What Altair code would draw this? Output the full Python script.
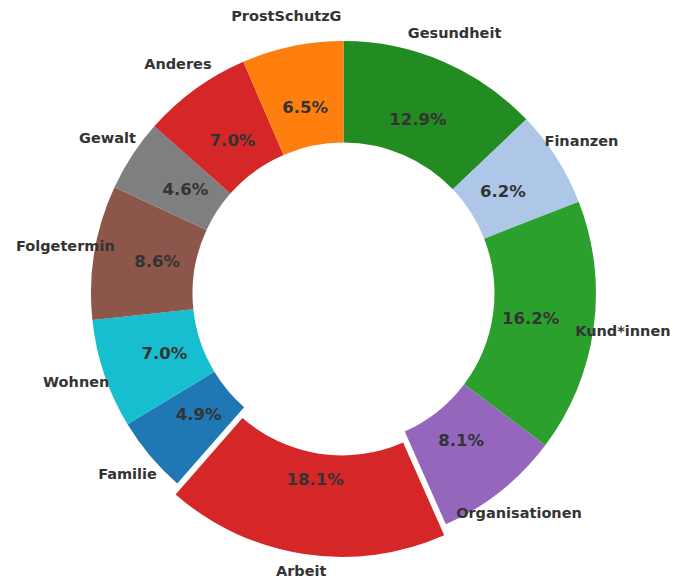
import altair as alt
import pandas as pd

# Data (clockwise from 12 o'clock)
labels = ["Gesundheit", "Finanzen", "Kund*innen", "Organisationen", "Arbeit",
          "Familie", "Wohnen", "Folgetermin", "Gewalt", "Anderes", "ProstSchutzG"]
values = [12.9, 6.2, 16.2, 8.1, 18.1, 4.9, 7.0, 8.6, 4.6, 7.0, 6.5]
colors = ["#228b22", "#aec7e8", "#2ca02c", "#9467bd", "#d62728",
          "#1f77b4", "#17becf", "#8c564b", "#7f7f7f", "#d62728", "#ff7f0e"]
exploded = "Arbeit"

df = pd.DataFrame({"label": labels, "value": values, "order": list(range(len(labels)))})

W, H = 673, 574
CX, CY = 335.5, 285.5
R_OUT, R_IN = 252.5, 151
EXPL = 11
R_LABEL, R_PCT = 282, 189

base = (
    alt.Chart(df)
    .transform_joinaggregate(total="sum(value)")
    .transform_window(cum="sum(value)", sort=[alt.SortField("order")], frame=[None, 0])
    .transform_calculate(
        start="2*PI*(datum.cum-datum.value)/datum.total",
        end="2*PI*datum.cum/datum.total",
    )
    .transform_calculate(mid="(datum.start+datum.end)/2")
    .transform_calculate(
        off=f"datum.label=='{exploded}' ? {EXPL} : 0",
        pct="format(datum.value, '.1f') + '%'",
    )
    .transform_calculate(
        cx=f"{CX} + datum.off*sin(datum.mid)",
        cy=f"{CY} - datum.off*cos(datum.mid)",
    )
)

color_scale = alt.Scale(domain=labels, range=colors)

arcs = base.mark_arc(innerRadius=R_IN, outerRadius=R_OUT).encode(
    theta=alt.Theta("start:Q", scale=None),
    theta2="end:Q",
    x=alt.X("cx:Q", scale=None),
    y=alt.Y("cy:Q", scale=None),
    color=alt.Color("label:N", scale=color_scale, legend=None),
)

outer_text = base.mark_text(
    font="DejaVu Sans", fontWeight="bold", fontSize=14.5, color="#333333",
    align="center", baseline="middle",
).encode(
    theta=alt.Theta("mid:Q", scale=None),
    radius=alt.value(R_LABEL),
    x=alt.value(CX),
    y=alt.value(CY),
    text="label:N",
)

pct_text = base.mark_text(
    font="DejaVu Sans", fontWeight="bold", fontSize=16.5, color="#333333",
    align="center", baseline="middle",
).encode(
    theta=alt.Theta("mid:Q", scale=None),
    radius=alt.value(R_PCT),
    x=alt.value(CX),
    y=alt.value(CY),
    text="pct:N",
)

chart = (
    alt.layer(arcs, outer_text, pct_text)
    .properties(width=W, height=H, autosize=alt.AutoSizeParams(type="none"), padding=0,
                background="white")
    .configure_view(stroke=None)
)

chart.save("out.html", embed_options={"renderer": "svg", "actions": False})
